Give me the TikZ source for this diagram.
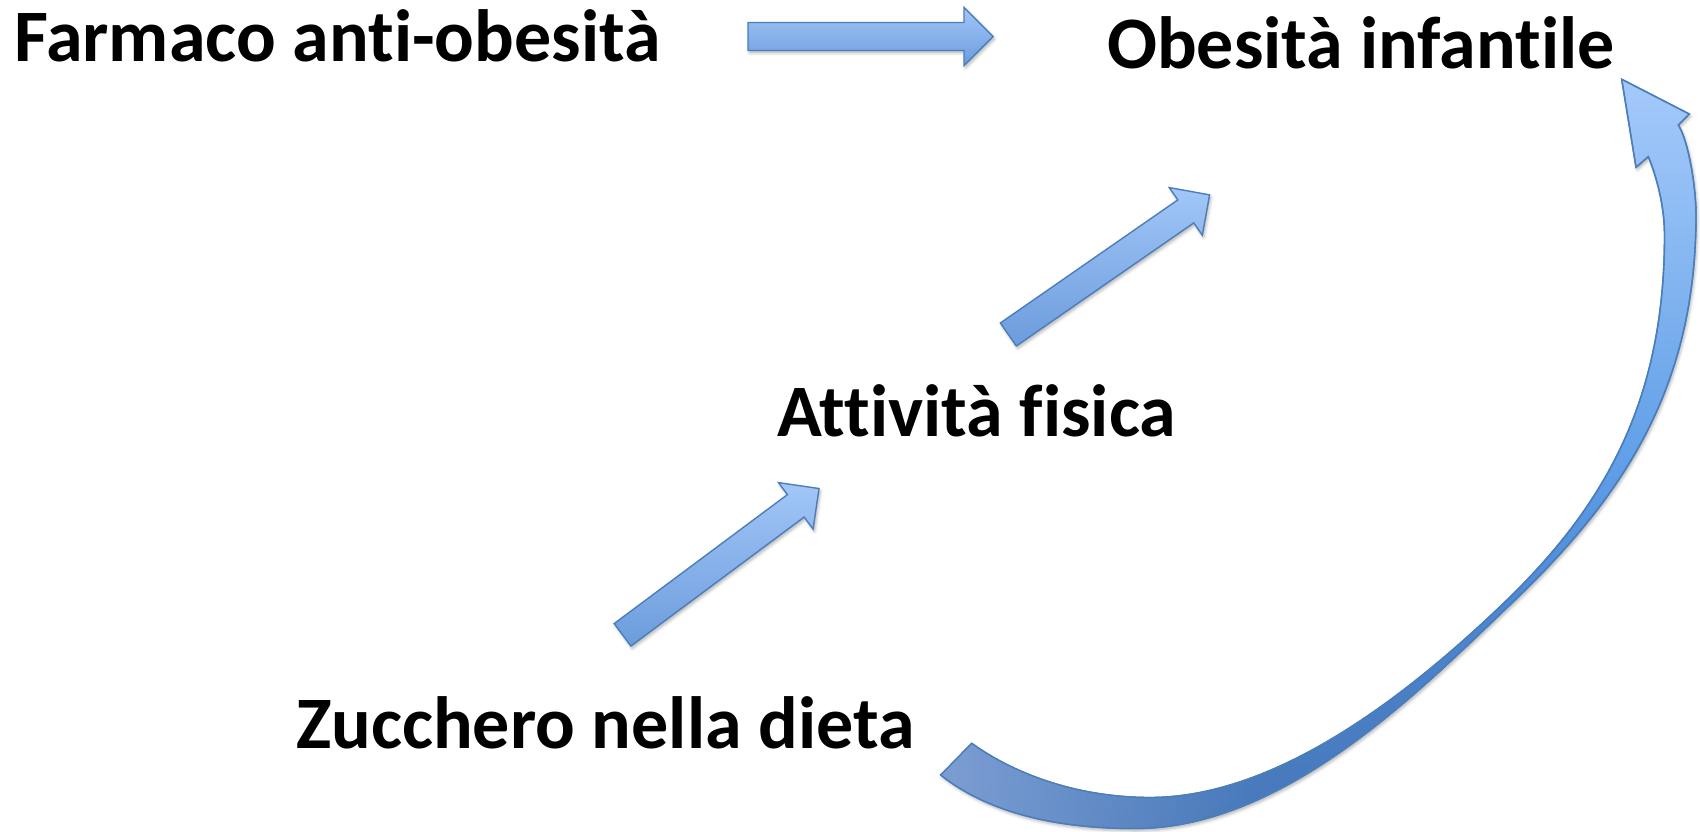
\documentclass[tikz,border=0pt]{standalone}
\usepackage{fontspec}
\setmainfont{Carlito}[Ligatures=NoCommon]
\usetikzlibrary{shadows.blur,fadings}
\definecolor{abord}{HTML}{4A7EBB}
\definecolor{alight}{HTML}{A2C6F7}
\definecolor{adark}{HTML}{6C9CDD}
\definecolor{ctail}{HTML}{7E9FD3}
\definecolor{cs1}{HTML}{4677B8}
\definecolor{cs2}{HTML}{4A7EC4}
\definecolor{cs3}{HTML}{4B88D7}
\definecolor{cs4}{HTML}{62A0E8}
\definecolor{cs5}{HTML}{86B7F1}
\definecolor{cs6}{HTML}{A5C9FB}
\pgfdeclareverticalshading{curveshade}{100bp}{%
  color(0bp)=(cs1);
  color(25bp)=(cs1);
  color(33bp)=(cs2);
  color(40bp)=(cs3);
  color(50bp)=(cs4);
  color(63bp)=(cs5);
  color(75bp)=(cs6);
  color(100bp)=(cs6)}
\tikzset{
  lbl/.style={font=\fontsize{74}{88}\selectfont\bfseries, inner sep=0pt, anchor=base west},
  blockarr/.style={draw=abord, line width=1.4pt, top color=alight, bottom color=adark,
    line join=miter,
    blur shadow={shadow xshift=1.5pt, shadow yshift=-2.5pt, shadow blur radius=3pt, shadow opacity=30}},
  curvearr/.style={draw=abord, line width=1.4pt, shading=curveshade, line join=miter,
    blur shadow={shadow xshift=1.5pt, shadow yshift=-2.5pt, shadow blur radius=3pt, shadow opacity=30}},
}
\newcommand{\blockarrow}[2]{%
  \begin{scope}[shift={#1}, rotate=#2]
    \shade[blockarr] (0,-14) -- (216,-14) -- (216,-29) -- (245,0) -- (216,29) -- (216,14) -- (0,14) -- cycle;
  \end{scope}}
\begin{document}
\begin{tikzpicture}[x=1pt,y=-1pt]
\useasboundingbox (0,0) rectangle (1700,832);
% labels
\node[lbl] (farmaco)  at (14,62)   {Farmaco anti-obesità};
\node[lbl] (obesita)  at (1107,69) {Obesità infantile};
\node[lbl] (attivita) at (777,436) {Attività fisica};
\node[lbl] (zucchero) at (296,748) {Zucchero nella dieta};
% straight block arrows
\blockarrow{(748,36.5)}{0}
\blockarrow{(1008.3,334.5)}{34.75}
\blockarrow{(622.5,634.8)}{36.66}
% curved arrow
\def\curvepath{(940.7,775) .. controls (987.5,812.2) and (1055,828.5) .. (1135,828.5)
 .. controls (1285,828.5) and (1421,689.4) .. (1508,606.7)
 .. controls (1616.8,503.4) and (1696,395) .. (1696,215)
 .. controls (1696,185) and (1688,140) .. (1678.3,125)
 -- (1689.3,114) -- (1621.7,79.3) -- (1636,167.3) -- (1648.3,156.7)
 .. controls (1656,175) and (1664.5,205) .. (1664.5,235)
 .. controls (1664.5,405) and (1601.5,510.2) .. (1500,606.7)
 .. controls (1413,689.4) and (1280,797.5) .. (1150,797.5)
 .. controls (1080,797.5) and (1016.3,775.5) .. (971.7,743.3) -- cycle}
\shade[curvearr] \curvepath;
\begin{scope}
  \clip \curvepath;
  \fill[ctail, path fading=east] (930,700) rectangle (1260,832);
\end{scope}
\draw[abord, line width=1.4pt, line join=miter] \curvepath;
\end{tikzpicture}
\end{document}
